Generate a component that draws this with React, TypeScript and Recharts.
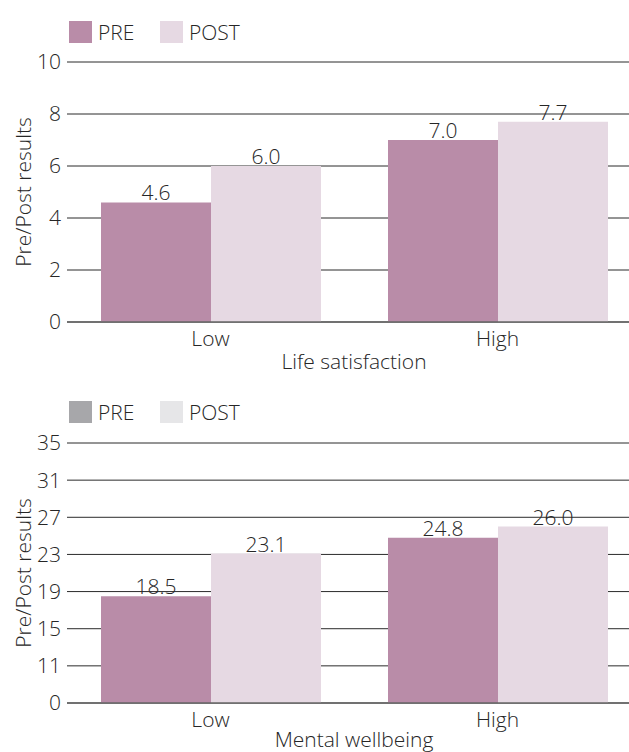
import React from "react";
import { BarChart, Bar, XAxis, YAxis, CartesianGrid, LabelList } from "recharts";

// Groups on the x axis
const groups = ["Low", "High"];

// Life satisfaction scores
const lifePre = [4.6, 7.0];
const lifePost = [6.0, 7.7];
const lifeTicks = [0, 2, 4, 6, 8, 10];

// Mental wellbeing scores (axis is broken below 11, bottom labelled 0)
const wellPre = [18.5, 24.8];
const wellPost = [23.1, 26.0];
const wellTicks = [7, 11, 15, 19, 23, 27, 31, 35];
const wellTickLabels = ["0", "11", "15", "19", "23", "27", "31", "35"];

const seriesNames = ["PRE", "POST"];
const barColors = ["#b98ca8", "#e6d9e3"];
const greyLegendColors = ["#a7a7aa", "#e6e6e8"];

const FONT = "'Open Sans', sans-serif";
const TEXT = "#262626";
const FS = 21;
const CHART_W = 641;
const AXIS_W = 67;

const Legend = ({ top, colors }: { top: number; colors: string[] }) => (
  <>
    {seriesNames.map((name, i) => (
      <div
        key={name}
        style={{
          position: "absolute",
          top,
          left: i === 0 ? 69 : 160,
          display: "flex",
          alignItems: "center",
          height: 22,
        }}
      >
        <div style={{ width: 23, height: 22, background: colors[i] }} />
        <span style={{ marginLeft: 6, fontSize: FS, fontWeight: 300, color: TEXT, lineHeight: "22px" }}>{name}</span>
      </div>
    ))}
  </>
);

interface PanelProps {
  pre: number[];
  post: number[];
  ticks: number[];
  tickLabels?: string[];
  domain: [number, number];
  title: string;
  titleOffset: number;
  marginTop: number;
}

const Panel = ({ pre, post, ticks, tickLabels, domain, title, titleOffset, marginTop }: PanelProps) => {
  const data = groups.map((g, i) => ({ group: g, pre: pre[i], post: post[i] }));
  const fmtTick = (v: number) => {
    const idx = ticks.indexOf(v);
    return tickLabels && idx >= 0 ? tickLabels[idx] : String(v);
  };
  const textStyle = { fill: TEXT, fontSize: FS, fontWeight: 300 };

  return (
    <BarChart
      width={CHART_W}
      height={380}
      data={data}
      margin={{ top: marginTop, right: 0, bottom: 380 - marginTop - 260 - 50, left: 0 }}
      barGap={0}
      barCategoryGap={34}
    >
      <CartesianGrid vertical={false} stroke="#2b2b2b" strokeWidth={1} />
      <XAxis
        dataKey="group"
        height={50}
        tickLine={false}
        axisLine={{ stroke: "#666666", strokeWidth: 1.5 }}
        tick={textStyle}
        tickMargin={3}
        label={{ value: title, position: "insideBottom", offset: titleOffset, ...textStyle }}
      />
      <YAxis
        type="number"
        domain={domain}
        ticks={ticks}
        interval={0}
        width={AXIS_W}
        tickSize={0}
        tickMargin={6}
        axisLine={false}
        tickLine={false}
        tick={textStyle}
        tickFormatter={fmtTick}
        allowDataOverflow
        label={{ value: "Pre/Post results", angle: -90, position: "center", dx: -10, ...textStyle }}
      />
      <Bar dataKey="pre" fill={barColors[0]} isAnimationActive={false}>
        <LabelList
          dataKey="pre"
          position="top"
          offset={2}
          formatter={(v: any) => Number(v).toFixed(1)}
          style={textStyle}
        />
      </Bar>
      <Bar dataKey="post" fill={barColors[1]} isAnimationActive={false}>
        <LabelList
          dataKey="post"
          position="top"
          offset={2}
          formatter={(v: any) => Number(v).toFixed(1)}
          style={textStyle}
        />
      </Bar>
    </BarChart>
  );
};

export default function App() {
  return (
    <div
      style={{
        position: "absolute",
        left: 0,
        top: 0,
        width: 629,
        height: 752,
        overflow: "hidden",
        background: "#ffffff",
        fontFamily: FONT,
      }}
    >
      <Legend top={21} colors={barColors} />
      <div style={{ position: "absolute", left: 0, top: 0 }}>
        <Panel
          pre={lifePre}
          post={lifePost}
          ticks={lifeTicks}
          domain={[0, 10]}
          title="Life satisfaction"
          titleOffset={3}
          marginTop={62}
        />
      </div>
      <Legend top={401} colors={greyLegendColors} />
      <div style={{ position: "absolute", left: 0, top: 380 }}>
        <Panel
          pre={wellPre}
          post={wellPost}
          ticks={wellTicks}
          tickLabels={wellTickLabels}
          domain={[7, 35]}
          title="Mental wellbeing"
          titleOffset={6}
          marginTop={63}
        />
      </div>
    </div>
  );
}
